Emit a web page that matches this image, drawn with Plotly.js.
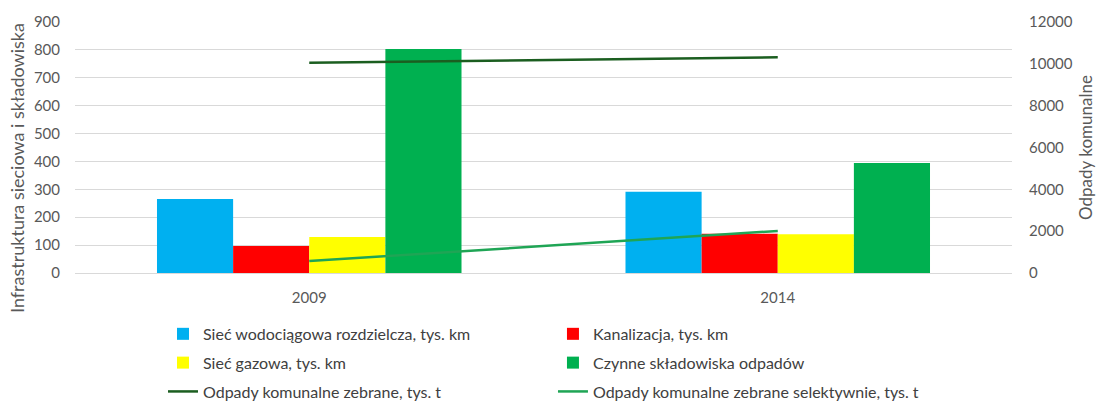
<!DOCTYPE html>
<html>
<head>
<meta charset="utf-8">
<script src="https://cdn.plot.ly/plotly-3.0.1.min.js"></script>
<style>html,body{margin:0;padding:0;background:#fff}#chart{width:1100px;height:403px}</style>
</head>
<body>
<div id="chart"></div>
<script>
const years = ["2009", "2014"];
const siecWodociagowa = [265, 291];
const kanalizacja = [97, 141];
const siecGazowa = [129, 139];
const skladowiska = [803, 394];
const odpadyZebrane = [10050, 10310];
const odpadySelektywnie = [570, 2010];

const names = [
  "Sieć wodociągowa rozdzielcza, tys. km",
  "Kanalizacja, tys. km",
  "Sieć gazowa, tys. km",
  "Czynne składowiska odpadów",
  "Odpady komunalne zebrane, tys. t",
  "Odpady komunalne zebrane selektywnie, tys. t"
];
const leftTitle = "Infrastruktura sieciowa i składowiska";
const rightTitle = "Odpady komunalne";

const FONT = "Lato, 'Open Sans', sans-serif";
const grey = "#595959";

const traces = [
  {type: "bar", x: years, y: siecWodociagowa, name: names[0], marker: {color: "#00B0F0"}, legend: "legend", legendgroup: "a"},
  {type: "bar", x: years, y: kanalizacja, name: names[1], marker: {color: "#FF0000"}, legend: "legend2", legendgroup: "b"},
  {type: "bar", x: years, y: siecGazowa, name: names[2], marker: {color: "#FFFF00"}, legend: "legend", legendgroup: "c"},
  {type: "bar", x: years, y: skladowiska, name: names[3], marker: {color: "#00B050"}, legend: "legend2", legendgroup: "d"},
  {type: "scatter", mode: "lines", x: years, y: odpadyZebrane, name: names[4], yaxis: "y2", line: {color: "#1B5E20", width: 2.5}, legend: "legend", legendgroup: "e"},
  {type: "scatter", mode: "lines", x: years, y: odpadySelektywnie, name: names[5], yaxis: "y2", line: {color: "#1FA555", width: 2.5}, legend: "legend2", legendgroup: "f"}
];

function leg(x) {
  return {orientation: "v", x: x, xanchor: "left", y: -0.175, yanchor: "top",
    traceorder: "grouped", tracegroupgap: 5,
    font: {family: FONT, size: 16, color: "#404040"}, bgcolor: "rgba(0,0,0,0)", itemwidth: 30};
}

const layout = {
  width: 1100, height: 403,
  margin: {l: 75, r: 88, t: 22, b: 130, autoexpand: false},
  paper_bgcolor: "#fff", plot_bgcolor: "#fff",
  font: {family: FONT, size: 15, color: grey},
  barmode: "group", bargap: 0.35, bargroupgap: 0,
  showlegend: true,
  xaxis: {type: "category", showgrid: false, showline: false, ticks: "", zeroline: false,
    ticklabelstandoff: 14,
    tickfont: {family: FONT, size: 15, color: grey}},
  yaxis: {range: [0, 900], dtick: 100, showgrid: true, gridcolor: "#D9D9D9", gridwidth: 1,
    zeroline: true, zerolinecolor: "#D9D9D9", showline: false, ticks: "", ticklabelstandoff: 14,
    tickfont: {family: FONT, size: 15, color: grey}},
  yaxis2: {range: [0, 12000], dtick: 2000, tickformat: "d", overlaying: "y", side: "right", showgrid: false,
    zeroline: false, showline: false, ticks: "", ticklabelstandoff: 16,
    tickfont: {family: FONT, size: 15, color: grey},
    title: {text: rightTitle, font: {family: FONT, size: 17, color: grey}, standoff: 8}},
  annotations: [{
    text: leftTitle, xref: "paper", yref: "paper", x: -0.0625, y: 0.42,
    xanchor: "center", yanchor: "middle", textangle: -90, showarrow: false,
    font: {family: FONT, size: 18, color: grey}
  }],
  legend: leg(0.0939),
  legend2: leg(0.5101)
};

Plotly.newPlot("chart", traces, layout, {displayModeBar: false, staticPlot: true});
</script>
</body>
</html>
